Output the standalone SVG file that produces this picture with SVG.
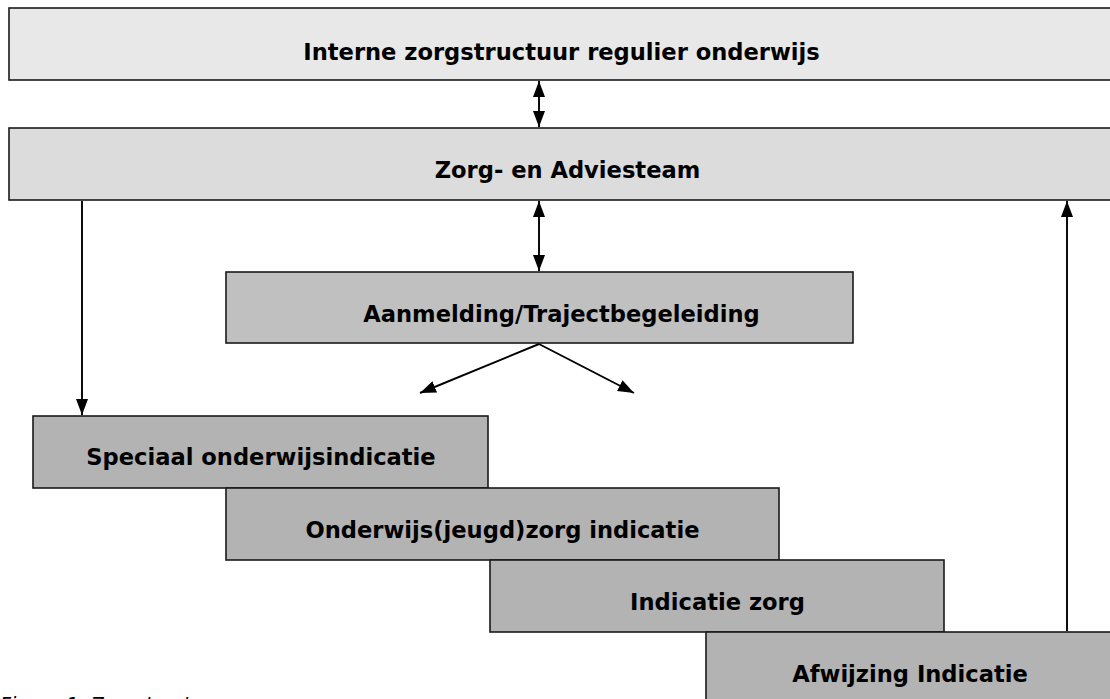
<svg xmlns="http://www.w3.org/2000/svg" width="1110" height="699" viewBox="0 0 1110 699">
  <style>
    .box { stroke: #1a1a1a; stroke-width: 1.6; }
    .lbl { font-family: "DejaVu Sans", Verdana, sans-serif; font-weight: bold; font-size: 22.6px; fill: #000; text-anchor: middle; }
    .cap { font-family: "DejaVu Sans", Verdana, sans-serif; font-style: italic; font-size: 19px; fill: #000; }
    .con { stroke: #000; stroke-width: 1.9; fill: none; }
  </style>
  <defs>
    <marker id="ah" viewBox="0 0 16 12" refX="16" refY="6" markerWidth="16" markerHeight="12" markerUnits="userSpaceOnUse" orient="auto-start-reverse">
      <path d="M0,0 L16,6 L0,12 Z" fill="#000"/>
    </marker>
  </defs>
  <rect width="1110" height="699" fill="#fff"/>

  <g id="node-interne">
    <rect class="box" x="9" y="8" width="1110" height="72" fill="#e8e8e8"/>
    <text class="lbl" x="561.5" y="60">Interne zorgstructuur regulier onderwijs</text>
  </g>
  <g id="node-zat">
    <rect class="box" x="9" y="128" width="1110" height="72" fill="#dcdcdc"/>
    <text class="lbl" x="567.5" y="178">Zorg- en Adviesteam</text>
  </g>
  <g id="node-aanmelding">
    <rect class="box" x="226" y="272" width="627" height="71" fill="#c0c0c0"/>
    <text class="lbl" x="561.5" y="322" font-size="23">Aanmelding/Trajectbegeleiding</text>
  </g>
  <g id="node-speciaal">
    <rect class="box" x="33" y="416" width="455" height="72" fill="#b3b3b3"/>
    <text class="lbl" x="261" y="465">Speciaal onderwijsindicatie</text>
  </g>
  <g id="node-onderwijszorg">
    <rect class="box" x="226" y="488" width="553" height="72" fill="#b3b3b3"/>
    <text class="lbl" x="502.5" y="538">Onderwijs(jeugd)zorg indicatie</text>
  </g>
  <g id="node-indicatie">
    <rect class="box" x="490" y="560" width="454" height="72" fill="#b3b3b3"/>
    <text class="lbl" x="717.5" y="610">Indicatie zorg</text>
  </g>
  <g id="node-afwijzing">
    <rect class="box" x="706" y="632" width="420" height="80" fill="#b3b3b3"/>
    <text class="lbl" x="910" y="682">Afwijzing Indicatie</text>
  </g>

  <g id="connectors">
    <line class="con" x1="539" y1="81" x2="539" y2="127" marker-start="url(#ah)" marker-end="url(#ah)"/>
    <line class="con" x1="539" y1="201" x2="539" y2="271" marker-start="url(#ah)" marker-end="url(#ah)"/>
    <line class="con" x1="539" y1="344" x2="420" y2="393" marker-end="url(#ah)"/>
    <line class="con" x1="539" y1="344" x2="634" y2="393" marker-end="url(#ah)"/>
    <line class="con" x1="82" y1="201" x2="82" y2="415" marker-end="url(#ah)"/>
    <line class="con" x1="1067" y1="631" x2="1067" y2="201" marker-end="url(#ah)"/>
  </g>

  <text class="cap" x="0" y="711">Figuur 1: Zorgstructuur</text>
</svg>
